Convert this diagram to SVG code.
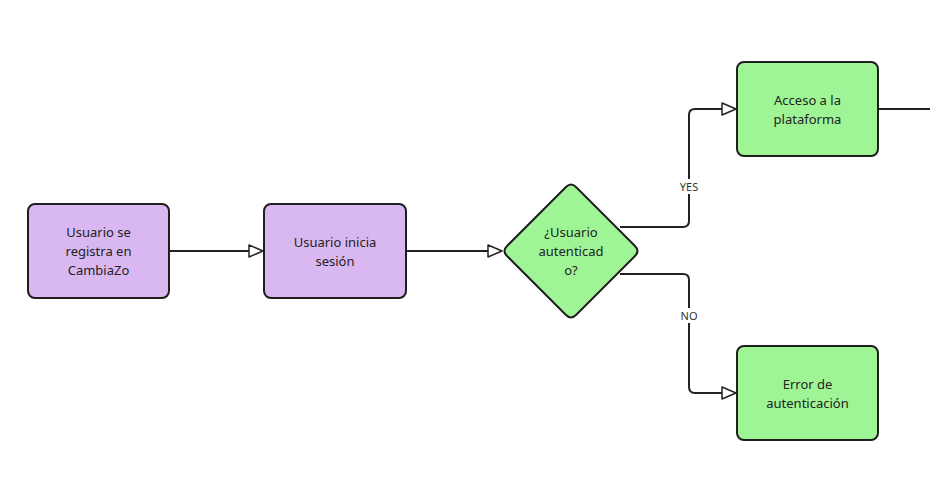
<svg xmlns="http://www.w3.org/2000/svg" width="930" height="499" viewBox="0 0 930 499">
<defs>
<marker id="arr" viewBox="0 0 16 14" refX="15" refY="7" markerWidth="16" markerHeight="14" markerUnits="userSpaceOnUse" orient="auto">
<path d="M1,1 L15,7 L1,13 Z" fill="#ffffff" stroke="#222222" stroke-width="1.5" stroke-linejoin="round"/>
</marker>
<style>
.p{fill:#d9b8f1;stroke:#1e1e1e;stroke-width:2}
.g{fill:#9ff595;stroke:#1e1e1e;stroke-width:2}
.c{fill:none;stroke:#222222;stroke-width:2}
.t{font-family:"Noto Sans","Open Sans",sans-serif;font-size:13px;fill:#222222;text-anchor:middle}
.l{font-family:"Noto Sans","Open Sans",sans-serif;font-size:11px;fill:#333333;text-anchor:middle}
</style>
</defs>
<rect width="930" height="499" fill="#ffffff"/>
<g id="connectors">
<path class="c" d="M169,251 H263" marker-end="url(#arr)"/>
<path class="c" d="M406,251 H502" marker-end="url(#arr)"/>
<path class="c" d="M620,227 H683 Q689,227 689,221 V115 Q689,109 695,109 H736" marker-end="url(#arr)"/>
<path class="c" d="M620,274 H683 Q689,274 689,280 V387 Q689,393 695,393 H736" marker-end="url(#arr)"/>
<path class="c" d="M878,109 H930"/>
<rect x="676" y="179" width="26" height="15" fill="#ffffff"/>
<text class="l" x="689" y="191">YES</text>
<rect x="678" y="308" width="22" height="15" fill="#ffffff"/>
<text class="l" x="689" y="320">NO</text>
</g>
<g id="n1">
<rect class="p" x="28" y="204" width="141" height="94" rx="7"/>
<text class="t" x="98.5" y="237">Usuario se</text>
<text class="t" x="98.5" y="256">registra en</text>
<text class="t" x="98.5" y="275">CambiaZo</text>
</g>
<g id="n2">
<rect class="p" x="264" y="204" width="142" height="94" rx="7"/>
<text class="t" x="335" y="247">Usuario inicia</text>
<text class="t" x="335" y="266">sesión</text>
</g>
<g id="n3">
<path class="g" d="M566,187 Q571,182 576,187 L635,246 Q640,251 635,256 L576,315 Q571,320 566,315 L507,256 Q502,251 507,246 Z"/>
<text class="t" x="571" y="237">¿Usuario</text>
<text class="t" x="571" y="256">autenticad</text>
<text class="t" x="571" y="275">o?</text>
</g>
<g id="n4">
<rect class="g" x="737" y="62" width="141" height="94" rx="7"/>
<text class="t" x="807.5" y="105">Acceso a la</text>
<text class="t" x="807.5" y="124">plataforma</text>
</g>
<g id="n5">
<rect class="g" x="737" y="346" width="141" height="94" rx="7"/>
<text class="t" x="807.5" y="389">Error de</text>
<text class="t" x="807.5" y="408">autenticación</text>
</g>
</svg>
